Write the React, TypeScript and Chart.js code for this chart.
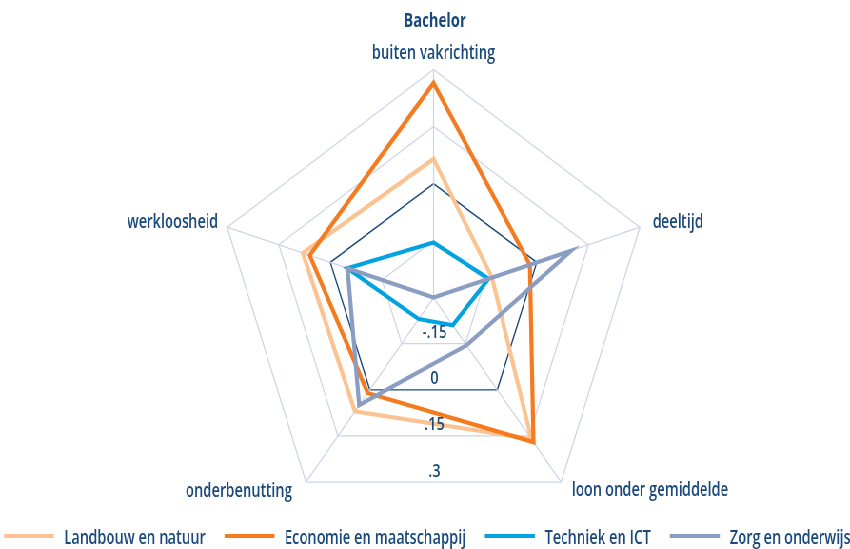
import React, { useEffect, useRef } from 'react';
import { Chart, registerables } from 'chart.js';

Chart.register(...registerables);

// ---------- data ----------
const TITLE = 'Bachelor';
const AXES = ['buiten vakrichting', 'deeltijd', 'loon onder gemiddelde', 'onderbenutting', 'werkloosheid'];
const SERIES_NAMES = ['Landbouw en natuur', 'Economie en maatschappij', 'Techniek en ICT', 'Zorg en onderwijs'];
const LANDBOUW = [0.065, -0.13, 0.16, 0.07, 0.08];
const ECONOMIE = [0.265, -0.02, 0.17, 0.01, 0.06];
const TECHNIEK = [-0.155, -0.14, -0.21, -0.23, -0.05];
const ZORG = [-0.3, 0.1, -0.145, 0.05, -0.05];
const TICK_VALUES = [-0.15, 0, 0.15, 0.3];
const TICK_LABELS = ['-.15', '0', '.15', '.3'];
const SCALE_MIN = -0.3;
const SCALE_MAX = 0.3;
const SCALE_STEP = 0.15;

// ---------- style ----------
const COLORS = ['#fbc391', '#f47b20', '#00a3df', '#8b9dc3'];
const TEXT = '#1a4a7b';
const NAVY = '#1b4a80';
const GRID = '#cdd4e6';
const FONT = '"Open Sans", "Noto Sans", sans-serif';
const WEIGHT = 600;
const LABEL_SIZE = 20;
const LABEL_SQUEEZE = 0.735;
const TICK_SIZE = 18;
const TICK_SQUEEZE = 0.82;
const TITLE_SIZE = 19.5;
const TITLE_SQUEEZE = 0.76;

const H = 549;
const CW = 893;
const K = 850 / CW; // horizontal squeeze of the whole picture
const CX = 455.5;
const CY = 297.6;
const R = 228;

// offsets of the axis captions relative to their outer vertex
const POINT_LABEL_LAYOUT: { align: CanvasTextAlign; dx: number; dy: number }[] = [
  { align: 'center', dx: 0, dy: -11 },
  { align: 'left', dx: 13.3, dy: 0.5 },
  { align: 'left', dx: 11.2, dy: 14 },
  { align: 'right', dx: -14.7, dy: 14.5 },
  { align: 'right', dx: -9.5, dy: 0.7 },
];

// legend geometry (canvas units)
const LEG = { centerX: 449, lineY: 536, baseY: 544, lineLen: 52.5, lineW: 4, gapText: 10.5, gapItem: 20 };

function squeezedText(
  ctx: CanvasRenderingContext2D,
  text: string,
  x: number,
  y: number,
  align: CanvasTextAlign,
  squeeze: number
) {
  ctx.save();
  ctx.translate(x, y);
  ctx.scale(squeeze, 1);
  ctx.textAlign = align;
  ctx.fillText(text, 0, 0);
  ctx.restore();
}

const textPlugin = {
  id: 'customText',
  afterDraw(chart: any) {
    const scale = chart.scales.r;
    const ctx = chart.ctx as CanvasRenderingContext2D;
    ctx.save();
    ctx.fillStyle = TEXT;
    ctx.textBaseline = 'alphabetic';
    // title
    ctx.font = `bold ${TITLE_SIZE}px ${FONT}`;
    squeezedText(ctx, TITLE, scale.xCenter + 1.5, 27, 'center', TITLE_SQUEEZE);
    // axis captions
    ctx.font = `${WEIGHT} ${LABEL_SIZE}px ${FONT}`;
    AXES.forEach((label, i) => {
      const p = scale.getPointPosition(i, scale.drawingArea);
      const pl = POINT_LABEL_LAYOUT[i];
      squeezedText(ctx, label, p.x + pl.dx, p.y + pl.dy, pl.align, LABEL_SQUEEZE);
    });
    // tick labels, just above the bottom edge of each ring
    ctx.font = `${WEIGHT} ${TICK_SIZE}px ${FONT}`;
    const cos36 = Math.cos(Math.PI / 5);
    TICK_VALUES.forEach((v, i) => {
      const d = scale.getDistanceFromCenterForValue(v);
      squeezedText(ctx, TICK_LABELS[i], scale.xCenter + 1, scale.yCenter + d * cos36 - 5.5, 'center', TICK_SQUEEZE);
    });
    // legend
    ctx.font = `${WEIGHT} ${LABEL_SIZE}px ${FONT}`;
    const items = chart.data.datasets.map((ds: any) => ({
      text: ds.label as string,
      color: ds.borderColor as string,
      w: ctx.measureText(ds.label).width * LABEL_SQUEEZE,
    }));
    const total =
      items.reduce((s: number, it: any) => s + LEG.lineLen + LEG.gapText + it.w, 0) + LEG.gapItem * (items.length - 1);
    let x = LEG.centerX - total / 2;
    items.forEach((it: any) => {
      ctx.fillStyle = it.color;
      ctx.fillRect(x, LEG.lineY - LEG.lineW / 2, LEG.lineLen, LEG.lineW);
      x += LEG.lineLen + LEG.gapText;
      ctx.fillStyle = TEXT;
      squeezedText(ctx, it.text, x, LEG.baseY, 'left', LABEL_SQUEEZE);
      x += it.w + LEG.gapItem;
    });
    ctx.restore();
  },
};

const isZero = (c: any) => c && c.tick && Math.abs(c.tick.value) < 1e-9;

export default function App() {
  const ref = useRef<HTMLCanvasElement>(null);

  useEffect(() => {
    const series = [LANDBOUW, ECONOMIE, TECHNIEK, ZORG];
    const chart = new Chart(ref.current as HTMLCanvasElement, {
      type: 'radar',
      data: {
        labels: AXES,
        datasets: series.map((data, i) => ({
          label: SERIES_NAMES[i],
          data,
          borderColor: COLORS[i],
          backgroundColor: COLORS[i],
          borderWidth: 4.2,
          pointRadius: 0,
          pointHoverRadius: 0,
          fill: false,
          tension: 0,
          borderJoinStyle: 'miter',
          order: series.length - i,
          clip: false,
        })) as any,
      },
      options: {
        animation: false,
        responsive: false,
        devicePixelRatio: 1,
        layout: { padding: { left: 0, right: 0, top: 40, bottom: 40 } },
        scales: {
          r: {
            min: SCALE_MIN,
            max: SCALE_MAX,
            ticks: { stepSize: SCALE_STEP, display: false },
            pointLabels: { display: false },
            grid: {
              color: (c: any) => (isZero(c) ? NAVY : GRID),
              lineWidth: (c: any) => (isZero(c) ? 1.4 : 1.2),
            },
            angleLines: { color: GRID, lineWidth: 1.2 },
            afterFit: (s: any) => {
              s.xCenter = CX;
              s.yCenter = CY;
              s.drawingArea = R;
            },
          } as any,
        },
        plugins: {
          tooltip: { enabled: false },
          title: { display: false },
          legend: { display: false },
        },
      },
      plugins: [textPlugin],
    });
    return () => chart.destroy();
  }, []);

  return (
    <div
      style={{
        position: 'fixed',
        left: 0,
        top: 0,
        width: CW,
        height: H,
        transform: `scaleX(${K})`,
        transformOrigin: '0 0',
        background: '#ffffff',
      }}
    >
      <canvas ref={ref} width={CW} height={H} style={{ display: 'block' }} />
    </div>
  );
}
